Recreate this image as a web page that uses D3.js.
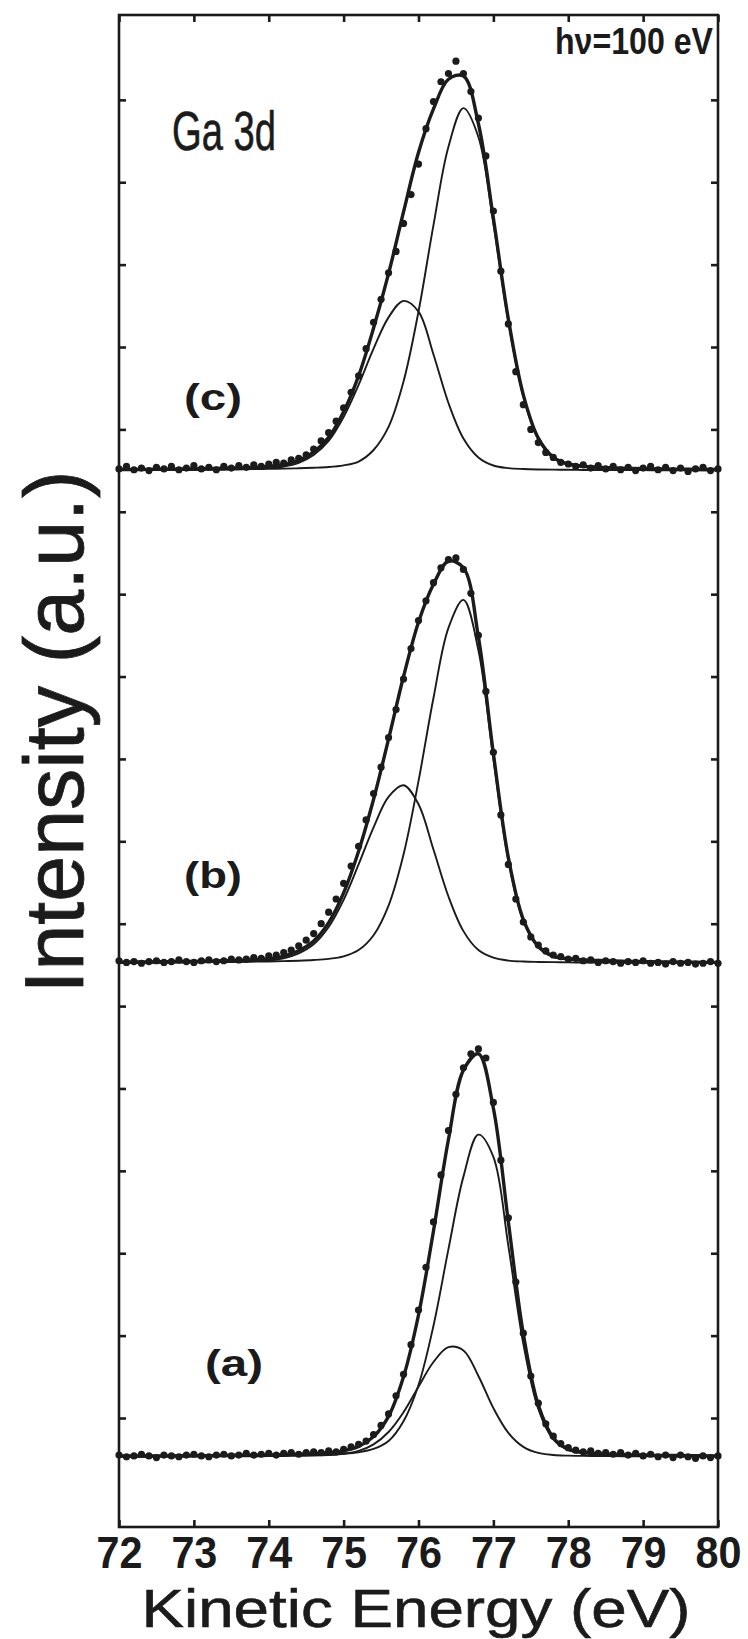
<!DOCTYPE html>
<html>
<head>
<meta charset="utf-8">
<script src="https://cdn.jsdelivr.net/npm/d3@7/dist/d3.min.js"></script>
<style>
  html, body { margin: 0; padding: 0; background: #ffffff; }
  svg { display: block; }
</style>
</head>
<body>
<script>
// Ga 3d photoemission spectra at hν = 100 eV, three stacked traces (a)–(c).
// Each trace: measured points, total fit, bulk and surface components.

const panelLabels = ["(a)", "(b)", "(c)"];
// vertical stacking offset of each trace (intensity units)
const panelOffsets = [0.53, 6.52, 12.5];

const xTickValues = [72, 73, 74, 75, 76, 77, 78, 79, 80];
const yTickValues = [1, 2, 3, 4, 5, 6, 7, 8, 9, 10, 11, 12, 13, 14, 15, 16, 17];

// kinetic energies of the measured points (eV)
const energyData = [
  72.0, 72.1, 72.2, 72.3, 72.4, 72.5, 72.6, 72.7, 72.8, 72.9,
  73.0, 73.1, 73.2, 73.3, 73.4, 73.5, 73.6, 73.7, 73.8, 73.9,
  74.0, 74.1, 74.2, 74.3, 74.4, 74.5, 74.6, 74.7, 74.8, 74.9,
  75.0, 75.1, 75.2, 75.3, 75.4, 75.5, 75.6, 75.7, 75.8, 75.9,
  76.0, 76.1, 76.2, 76.3, 76.4, 76.5, 76.6, 76.7, 76.8, 76.9,
  77.0, 77.1, 77.2, 77.3, 77.4, 77.5, 77.6, 77.7, 77.8, 77.9,
  78.0, 78.1, 78.2, 78.3, 78.4, 78.5, 78.6, 78.7, 78.8, 78.9,
  79.0, 79.1, 79.2, 79.3, 79.4, 79.5, 79.6, 79.7, 79.8, 79.9,
  80.0
];

// measured intensities above each trace's baseline
const dataA = [
  0.02, 0.00, 0.01, 0.03, 0.01, -0.01, 0.02, 0.01, 0.00, 0.02,
  0.03, 0.01, 0.00, 0.02, 0.03, 0.01, 0.02, 0.04, 0.02, 0.03,
  0.04, 0.02, 0.04, 0.05, 0.03, 0.05, 0.06, 0.05, 0.07, 0.06,
  0.09, 0.12, 0.15, 0.19, 0.27, 0.38, 0.52, 0.74, 1.00, 1.36,
  1.78, 2.30, 2.85, 3.42, 3.96, 4.40, 4.72, 4.89, 4.95, 4.84,
  4.30, 3.60, 2.90, 2.12, 1.50, 0.98, 0.65, 0.40, 0.25, 0.16,
  0.11, 0.08, 0.06, 0.07, 0.04, 0.05, 0.03, 0.05, 0.02, 0.04,
  0.01, 0.03, 0.00, 0.02, -0.01, 0.02, 0.00, -0.02, 0.01, -0.01,
  0.01
];
const dataB = [
  0.03, 0.01, 0.02, 0.00, 0.02, 0.03, 0.01, 0.02, 0.04, 0.02,
  0.01, 0.03, 0.04, 0.02, 0.03, 0.05, 0.04, 0.05, 0.07, 0.06,
  0.09, 0.10, 0.13, 0.16, 0.21, 0.28, 0.36, 0.48, 0.62, 0.78,
  0.97, 1.18, 1.42, 1.74, 2.06, 2.38, 2.74, 3.08, 3.45, 3.82,
  4.16, 4.40, 4.62, 4.80, 4.90, 4.92, 4.78, 4.49, 3.98, 3.30,
  2.56, 1.80, 1.20, 0.78, 0.50, 0.32, 0.22, 0.15, 0.10, 0.08,
  0.05, 0.06, 0.03, 0.04, 0.01, 0.03, 0.02, 0.00, 0.02, 0.01,
  0.03, 0.00, 0.01, -0.01, 0.02, 0.00, 0.01, -0.01, 0.00, 0.02,
  0.00
];
const dataC = [
  0.02, 0.05, 0.01, 0.03, 0.00, 0.04, 0.02, 0.05, 0.01, 0.03,
  0.06, 0.02, 0.04, 0.01, 0.05, 0.03, 0.06, 0.04, 0.07, 0.05,
  0.08, 0.10, 0.09, 0.13, 0.15, 0.19, 0.26, 0.36, 0.46, 0.60,
  0.76, 0.95, 1.15, 1.48, 1.80, 2.08, 2.40, 2.66, 3.00, 3.35,
  3.72, 4.15, 4.48, 4.72, 4.82, 4.97, 4.82, 4.60, 4.28, 3.82,
  3.15, 2.42, 1.78, 1.20, 0.80, 0.50, 0.34, 0.22, 0.16, 0.10,
  0.08, 0.05, 0.07, 0.03, 0.06, 0.02, 0.05, 0.01, 0.04, 0.00,
  0.03, 0.05, 0.01, 0.04, 0.00, 0.03, -0.01, 0.02, 0.04, 0.00,
  0.02
];

// energies at which the fitted components are tabulated (eV)
const energyFit = [
  72.0, 72.2, 72.4, 72.6, 72.8, 73.0, 73.2, 73.4, 73.6, 73.8,
  74.0, 74.2, 74.4, 74.6, 74.8, 75.0, 75.2, 75.4, 75.6, 75.8,
  76.0, 76.2, 76.4, 76.6, 76.8, 77.0, 77.2, 77.4, 77.6, 77.8,
  78.0, 78.2, 78.4, 78.6, 78.8, 79.0, 79.2, 79.4, 79.6, 79.8,
  80.0
];

// bulk (higher kinetic energy) and surface (lower kinetic energy) components
const bulkA = [
  0.006, 0.006, 0.006, 0.007, 0.008, 0.008, 0.009, 0.011, 0.012, 0.014,
  0.015, 0.018, 0.020, 0.024, 0.029, 0.037, 0.054, 0.094, 0.19, 0.43,
  0.87, 1.59, 2.52, 3.40, 3.91, 3.64, 2.56, 1.37, 0.58, 0.21,
  0.080, 0.043, 0.030, 0.023, 0.019, 0.016, 0.013, 0.011, 0.010, 0.008,
  0.007
];
const surfA = [
  0.002, 0.002, 0.003, 0.003, 0.003, 0.004, 0.004, 0.005, 0.006, 0.006,
  0.007, 0.009, 0.011, 0.013, 0.020, 0.035, 0.070, 0.15, 0.30, 0.54,
  0.85, 1.15, 1.33, 1.29, 0.98, 0.59, 0.29, 0.12, 0.046, 0.021,
  0.013, 0.010, 0.008, 0.007, 0.005, 0.005, 0.004, 0.004, 0.003, 0.003,
  0.003
];
const bulkB = [
  0.007, 0.008, 0.009, 0.010, 0.011, 0.012, 0.013, 0.015, 0.017, 0.020,
  0.022, 0.026, 0.031, 0.039, 0.053, 0.084, 0.16, 0.34, 0.70, 1.32,
  2.21, 3.22, 4.07, 4.41, 3.80, 2.48, 1.25, 0.51, 0.19, 0.075,
  0.044, 0.032, 0.025, 0.021, 0.017, 0.015, 0.012, 0.011, 0.009, 0.008,
  0.007
];
const surfB = [
  0.006, 0.007, 0.008, 0.009, 0.010, 0.011, 0.013, 0.015, 0.018, 0.024,
  0.034, 0.060, 0.12, 0.23, 0.44, 0.77, 1.20, 1.65, 2.02, 2.16,
  1.93, 1.38, 0.81, 0.39, 0.16, 0.067, 0.032, 0.021, 0.016, 0.013,
  0.011, 0.009, 0.008, 0.007, 0.006, 0.005, 0.005, 0.004, 0.004, 0.003,
  0.003
];
const bulkC = [
  0.007, 0.007, 0.008, 0.009, 0.010, 0.011, 0.012, 0.014, 0.015, 0.018,
  0.021, 0.024, 0.028, 0.034, 0.043, 0.064, 0.11, 0.25, 0.53, 1.08,
  1.93, 2.98, 3.93, 4.40, 4.05, 3.00, 1.81, 0.90, 0.38, 0.15,
  0.071, 0.045, 0.034, 0.027, 0.022, 0.019, 0.016, 0.014, 0.012, 0.011,
  0.010
];
const surfC = [
  0.006, 0.006, 0.007, 0.008, 0.009, 0.010, 0.012, 0.014, 0.017, 0.021,
  0.030, 0.050, 0.095, 0.19, 0.36, 0.65, 1.04, 1.48, 1.86, 2.06,
  1.93, 1.41, 0.82, 0.39, 0.16, 0.062, 0.030, 0.019, 0.014, 0.012,
  0.010, 0.008, 0.007, 0.006, 0.005, 0.005, 0.004, 0.004, 0.004, 0.003,
  0.003
];

const measured = [dataA, dataB, dataC];
const bulkComponents = [bulkA, bulkB, bulkC];
const surfaceComponents = [surfA, surfB, surfC];

// ---------------------------------------------------------------------------
const W = 748, H = 1639;
const frame = { left: 119, right: 718, top: 15, bottom: 1527 };
const ink = "#1b1b1b";
const font = "'Liberation Sans', Arial, sans-serif";

const x = d3.scaleLinear().domain([72, 80]).range([frame.left, frame.right]);
const y = d3.scaleLinear().domain([-0.323, 18.03]).range([frame.bottom, frame.top]);

const svg = d3.select("body").append("svg")
  .attr("width", W).attr("height", H)
  .attr("viewBox", `0 0 ${W} ${H}`);

svg.append("rect").attr("width", W).attr("height", H).attr("fill", "#ffffff");

const plot = svg.append("g");

// spectra
const line = (offset, key) => d3.line()
  .x(d => x(d.e))
  .y(d => y(offset + d[key]))
  .curve(d3.curveCatmullRom.alpha(0.5));

panelLabels.forEach((label, i) => {
  const off = panelOffsets[i];
  const fit = energyFit.map((e, j) => ({
    e,
    bulk: bulkComponents[i][j],
    surf: surfaceComponents[i][j],
    total: bulkComponents[i][j] + surfaceComponents[i][j]
  }));
  const pts = energyData.map((e, j) => ({ e, v: measured[i][j] }));

  const g = plot.append("g").attr("class", "trace");

  g.append("path").datum(fit)
    .attr("d", line(off, "surf"))
    .attr("fill", "none").attr("stroke", ink).attr("stroke-width", 1.9);
  g.append("path").datum(fit)
    .attr("d", line(off, "bulk"))
    .attr("fill", "none").attr("stroke", ink).attr("stroke-width", 1.9);
  g.append("path").datum(fit)
    .attr("d", line(off, "total"))
    .attr("fill", "none").attr("stroke", ink).attr("stroke-width", 3.4);

  g.selectAll("circle").data(pts).join("circle")
    .attr("cx", d => x(d.e))
    .attr("cy", d => y(off + d.v))
    .attr("r", 3.6)
    .attr("fill", ink);
});

// frame and inward ticks on all four sides
const axisStyle = sel => {
  sel.select(".domain").remove();
  sel.selectAll(".tick line").attr("stroke", ink).attr("stroke-width", 2.6);
};

const bottomAxis = svg.append("g")
  .attr("transform", `translate(0,${frame.bottom})`)
  .call(d3.axisBottom(x).tickValues(xTickValues).tickSizeInner(-7).tickSizeOuter(0))
  .call(axisStyle);
bottomAxis.selectAll(".tick text")
  .attr("y", 41).attr("dy", 0)
  .attr("fill", ink)
  .attr("font-family", font)
  .attr("font-weight", "bold")
  .attr("font-size", 44)
  .attr("textLength", 46)
  .attr("lengthAdjust", "spacingAndGlyphs");

svg.append("g")
  .attr("transform", `translate(0,${frame.top})`)
  .call(d3.axisTop(x).tickValues(xTickValues).tickSizeInner(-7).tickSizeOuter(0).tickFormat(""))
  .call(axisStyle);

svg.append("g")
  .attr("transform", `translate(${frame.left},0)`)
  .call(d3.axisLeft(y).tickValues(yTickValues).tickSizeInner(-7).tickSizeOuter(0).tickFormat(""))
  .call(axisStyle);

svg.append("g")
  .attr("transform", `translate(${frame.right},0)`)
  .call(d3.axisRight(y).tickValues(yTickValues).tickSizeInner(-7).tickSizeOuter(0).tickFormat(""))
  .call(axisStyle);

svg.append("rect")
  .attr("x", frame.left).attr("y", frame.top)
  .attr("width", frame.right - frame.left)
  .attr("height", frame.bottom - frame.top)
  .attr("fill", "none").attr("stroke", ink).attr("stroke-width", 2.6);

// axis titles
svg.append("text")
  .attr("x", 416).attr("y", 1627)
  .attr("text-anchor", "middle")
  .attr("font-family", font).attr("font-size", 54)
  .attr("fill", ink)
  .attr("stroke", ink).attr("stroke-width", 0.6)
  .attr("textLength", 549).attr("lengthAdjust", "spacingAndGlyphs")
  .text("Kinetic Energy (eV)");

svg.append("text")
  .attr("transform", "translate(83,732) rotate(-90)")
  .attr("text-anchor", "middle")
  .attr("font-family", font).attr("font-size", 84)
  .attr("fill", ink)
  .attr("stroke", ink).attr("stroke-width", 0.8)
  .attr("textLength", 523).attr("lengthAdjust", "spacingAndGlyphs")
  .text("Intensity (a.u.)");

// annotations
svg.append("text")
  .attr("x", 172).attr("y", 150)
  .attr("font-family", font).attr("font-size", 56)
  .attr("fill", ink)
  .attr("stroke", ink).attr("stroke-width", 0.6)
  .attr("textLength", 104).attr("lengthAdjust", "spacingAndGlyphs")
  .text("Ga 3d");

svg.append("text")
  .attr("x", 555).attr("y", 54)
  .attr("font-family", font).attr("font-size", 37).attr("font-weight", "bold")
  .attr("fill", ink)
  .attr("textLength", 158).attr("lengthAdjust", "spacingAndGlyphs")
  .text("hν=100 eV");

const labelPos = [
  { x: 205, y: 1376 },
  { x: 184, y: 888 },
  { x: 184, y: 410 }
];
panelLabels.forEach((label, i) => {
  svg.append("text")
    .attr("x", labelPos[i].x).attr("y", labelPos[i].y)
    .attr("font-family", font).attr("font-size", 36).attr("font-weight", "bold")
    .attr("fill", ink)
    .attr("textLength", 58).attr("lengthAdjust", "spacingAndGlyphs")
    .text(label);
});
</script>
</body>
</html>
